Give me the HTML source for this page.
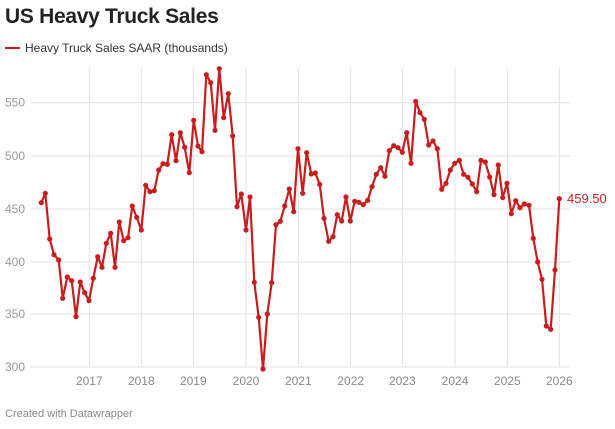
<!DOCTYPE html>
<html><head><style>
body{margin:0;width:615px;height:429px;background:#fff;font-family:"Liberation Sans",sans-serif;overflow:hidden;position:relative}
#t{position:absolute;left:5px;top:5px;font-size:21px;font-weight:bold;color:#222;letter-spacing:-0.3px}
#l{position:absolute;left:5px;top:41px;font-size:12px;color:#333}
#l span{display:inline-block;width:15px;height:2px;background:#c71e1d;vertical-align:middle;margin-right:5px;position:relative;top:-1px}
#f{position:absolute;left:5px;top:408px;font-size:11px;color:#888}
svg{position:absolute;left:0;top:0}
</style></head><body>
<div id="t">US Heavy Truck Sales</div>
<div id="l"><span></span>Heavy Truck Sales SAAR (thousands)</div>
<div id="f">Created with Datawrapper</div>
<svg id="s" width="615" height="429" font-family="Liberation Sans, sans-serif" font-size="12"></svg>
<script>
var s=document.getElementById('s'),h='';
var ys=[[102.7,550],[156,500],[209,450],[262,400],[314,350],[367,300]];
ys.forEach(function(g){h+='<line x1="30" x2="570" y1="'+g[0]+'" y2="'+g[0]+'" stroke="#e3e3e3"/>';h+='<text x="5" y="'+(g[0]+4)+'" fill="#999">'+g[1]+'</text>';});
var xs=[89.3,141.3,193.3,246,298.3,350.7,402.3,455,507.3,559.3];
xs.forEach(function(x,i){h+='<line x1="'+x+'" x2="'+x+'" y1="68" y2="367" stroke="#e3e3e3"/>';h+='<text x="'+x+'" y="385" text-anchor="middle" fill="#888">'+(2017+i)+'</text>';});
var a=[34,428,46,400,59,537,72,584,86,600,98,715,112,651,125,662,138,770,151,666,164,698,177,722,190,655,203,590,216,622,229,550,242,520,255,622,268,486,281,542,294,533,307,438,320,472,334,510,347,376,360,395,373,392,386,330,399,311,412,313,425,224,438,302,451,218,464,262,478,338,491,181,504,258,516,275,529,44,542,68,555,211,568,26,581,173,595,101,608,228,621,440,634,402,648,510,660,411,673,667,686,772,699,927,712,762,725,668,738,494,751,484,764,438,778,387,791,455,804,266];
var b=[8,400,20,278,34,342,46,339,59,373,72,475,86,544,99,530,112,464,125,483,138,411,151,483,164,424,177,427,190,434,203,421,216,380,229,343,242,323,255,349,268,272,281,257,294,263,307,277,320,218,333,310,347,124,360,158,373,178,386,255,399,243,412,266,425,388,438,370,451,330,464,310,478,301,491,343,504,352,517,372,530,395,543,301,556,306,569,351,582,404,595,315,608,413,621,370,634,461,647,422,660,443,673,432,687,436,700,535,713,606,726,658,739,798,752,808,765,630,778,416];
var p=[];
for(var i=0;i<a.length;i+=2)p.push([30+a[i]/3,60+a[i+1]/3]);
for(i=0;i<b.length;i+=2)p.push([300+b[i]/3,60+b[i+1]/3]);
h+='<polyline fill="none" stroke="#c71e1d" stroke-width="2.2" stroke-linejoin="round" points="'+p.map(function(q){return q[0].toFixed(1)+','+q[1].toFixed(1)}).join(' ')+'"/>';
p.forEach(function(q){h+='<circle cx="'+q[0].toFixed(1)+'" cy="'+q[1].toFixed(1)+'" r="2.6" fill="#c71e1d"/>';});
h+='<text x="567" y="203" fill="#c71e1d" font-size="13">459.50</text>';
s.innerHTML=h;
</script>
</body></html>
